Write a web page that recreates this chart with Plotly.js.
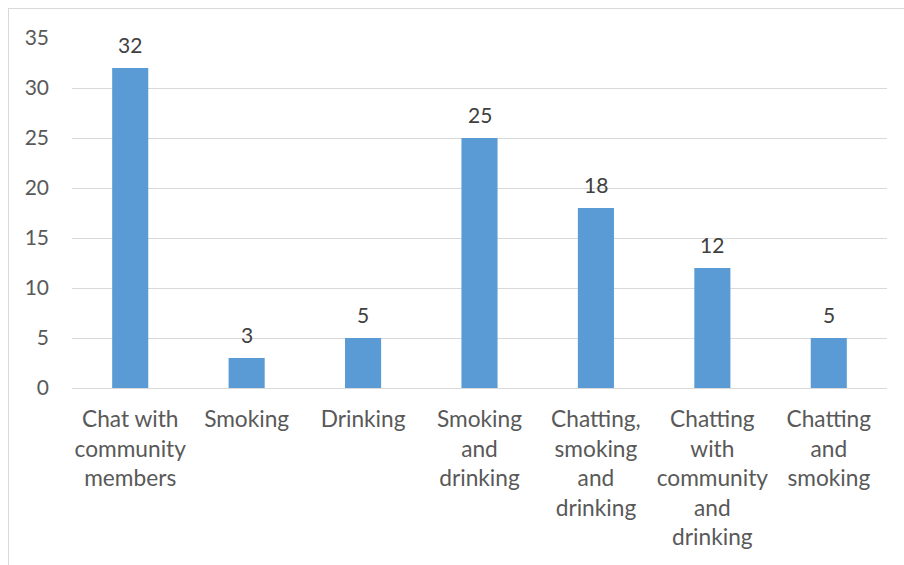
<!DOCTYPE html>
<html>
<head>
<meta charset="utf-8">
<script src="https://cdn.plot.ly/plotly-3.0.1.min.js"></script>
<style>
html,body{margin:0;padding:0;background:#fff;}
#chart{width:904px;height:565px;}
</style>
</head>
<body>
<div id="chart"></div>
<script>
const categories = [
  "Chat with<br>community<br>members",
  "Smoking",
  "Drinking",
  "Smoking<br>and<br>drinking",
  "Chatting,<br>smoking<br>and<br>drinking",
  "Chatting<br>with<br>community<br>and<br>drinking",
  "Chatting<br>and<br>smoking"
];
const values = [32, 3, 5, 25, 18, 12, 5];
const yTicks = [0, 5, 10, 15, 20, 25, 30, 35];

const fontFam = "Lato, 'Open Sans', sans-serif";

const trace = {
  type: 'bar',
  x: categories,
  y: values,
  marker: {color: '#5B9BD5'},
  cliponaxis: false,
  hoverinfo: 'none'
};

const annotations = categories.map((c, i) => ({
  x: c, y: values[i], xref: 'x', yref: 'y',
  text: String(values[i]),
  showarrow: false,
  yanchor: 'bottom',
  yshift: 9,
  font: {family: fontFam, size: 21, color: '#404040'}
}));

const layout = {
  width: 904,
  height: 565,
  margin: {l: 72, r: 17, t: 38, b: 177},
  paper_bgcolor: '#ffffff',
  plot_bgcolor: '#ffffff',
  bargap: 0.69,
  showlegend: false,
  font: {family: fontFam, color: '#595959', size: 20},
  xaxis: {
    type: 'category',
    showgrid: false,
    showline: true,
    linecolor: '#D9D9D9',
    linewidth: 1,
    ticks: '',
    tickfont: {family: fontFam, size: 22.7, color: '#595959'},
    ticklabelstandoff: 11,
    automargin: false
  },
  yaxis: {
    range: [0, 35],
    tickvals: yTicks,
    ticktext: yTicks.map(String),
    showgrid: true,
    gridcolor: '#D9D9D9',
    gridwidth: 1,
    zeroline: false,
    showline: false,
    ticks: '',
    tickfont: {family: fontFam, size: 21, color: '#595959'},
    ticklabelstandoff: 22,
    automargin: false
  },
  annotations: annotations,
  shapes: [
    {type: 'line', xref: 'paper', yref: 'paper', x0: (8-72)/815, x1: 1.05, y0: (388-8.5)/350, y1: (388-8.5)/350, line: {color: '#D9D9D9', width: 1}},
    {type: 'line', xref: 'paper', yref: 'paper', x0: (8.5-72)/815, x1: (8.5-72)/815, y0: (388-8)/350, y1: -0.6, line: {color: '#D9D9D9', width: 1}}
  ]
};

Plotly.newPlot('chart', [trace], layout, {staticPlot: true, displayModeBar: false});
</script>
</body>
</html>
